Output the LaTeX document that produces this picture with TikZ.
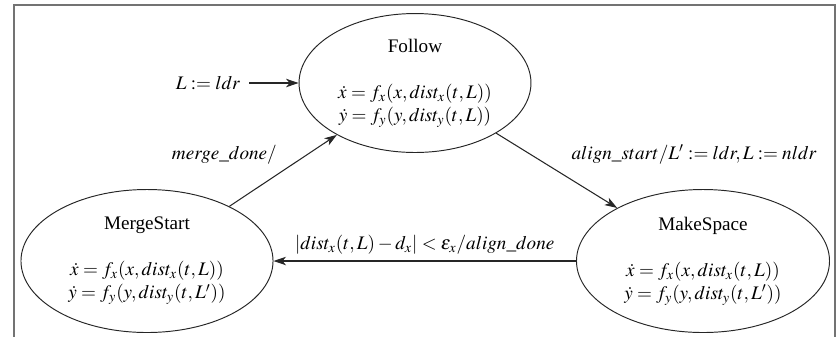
\documentclass[tikz,border=0pt]{standalone}
\usepackage{mathptmx}
\usepackage[no-math]{fontspec}
\setmainfont{Liberation Serif}
\usetikzlibrary{shapes.geometric,arrows.meta}
\begin{document}
\begin{tikzpicture}[x=0.5217pt,y=-0.5217pt,
  state/.style={draw=black!85,line width=0.5pt,ellipse,inner sep=0pt,align=center},
  conn/.style={draw=black!85,line width=0.55pt,-{Stealth[length=6.5pt,width=4.4pt,inset=1.8pt]}},
  lbl/.style={inner sep=3pt}]
\useasboundingbox (0,0) rectangle (839,336);
\draw[black!55,line width=0.7pt] (14,345) -- (14,5) -- (835,5) -- (835,345);
\node[state,minimum width=121pt,minimum height=72.5pt] (follow) at (415,83)
  {Follow\\ \\ $\dot{x} = f_x(x,dist_x(t,L))$\\ $\dot{y} = f_y(y,dist_y(t,L))$};
\node[state,minimum width=131.5pt,minimum height=74.6pt] (merge) at (147,261)
  {MergeStart\\ \\ $\dot{x} = f_x(x,dist_x(t,L))$\\ $\dot{y} = f_y(y,dist_y(t,L'))$};
\node[state,minimum width=132pt,minimum height=74.6pt] (make) at (703,261)
  {MakeSpace\\ \\ $\dot{x} = f_x(x,dist_x(t,L))$\\ $\dot{y} = f_y(y,dist_y(t,L'))$};
\node[lbl,inner sep=4.5pt] (init) at (208,83) {$L := ldr$};
\draw[conn] (init) -- (follow);
\draw[conn] (merge) -- node[lbl,above left,pos=0.5] (lmd) {$merge\_done/$} (follow);
\draw[conn] (follow) -- node[lbl,above right,pos=0.5,xshift=4.5pt] (las) {$align\_start/L' := ldr, L := nldr$} (make);
\draw[conn] (make) -- node[lbl,above] (lad) {$|dist_x(t,L) - d_x| < \epsilon_x/align\_done$} (merge);
\end{tikzpicture}
\end{document}
